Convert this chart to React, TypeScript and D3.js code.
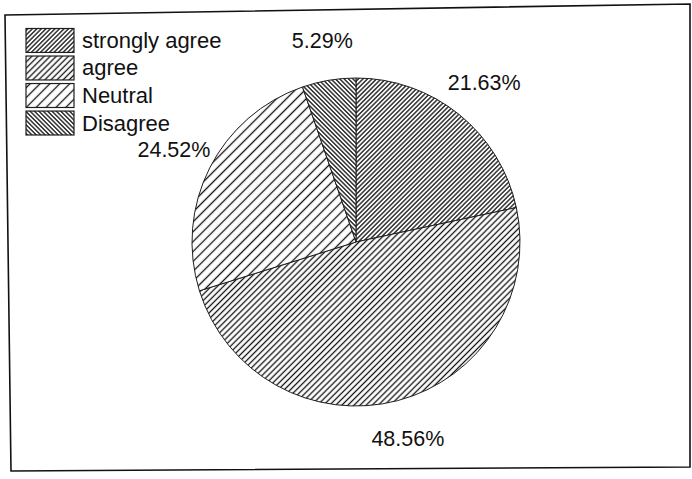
import React from "react";
import * as d3 from "d3";

const categories = ["strongly agree", "agree", "Neutral", "Disagree"];
const values = [21.63, 48.56, 24.52, 5.29];
const valueLabels = ["21.63%", "48.56%", "24.52%", "5.29%"];

const W = 692;
const H = 479;
const cx = 356;
const cy = 242;
const R = 164;
const labelR = 204;

const hatch = [
  { id: "p0", spacing: 3.2, angle: 45 },
  { id: "p1", spacing: 4.3, angle: 45 },
  { id: "p2", spacing: 7, angle: 45 },
  { id: "p3", spacing: 3.1, angle: -45 },
];

export default function App() {
  const pie = d3.pie<number>().sort(null).value((d) => d)(values);
  const arc = d3.arc<d3.PieArcDatum<number>>().innerRadius(0).outerRadius(R);
  const labelArc = d3
    .arc<d3.PieArcDatum<number>>()
    .innerRadius(labelR)
    .outerRadius(labelR);
  const legendY = d3
    .scaleBand<string>()
    .domain(categories)
    .range([28.5, 135])
    .paddingInner(0.13);
  const font = "'Liberation Sans', Arial, sans-serif";

  return (
    <svg
      width={W}
      height={H}
      style={{ position: "absolute", left: 0, top: 0, background: "#fff" }}
    >
      <defs>
        {hatch.map((h) => (
          <pattern
            key={h.id}
            id={h.id}
            patternUnits="userSpaceOnUse"
            width={h.spacing}
            height={h.spacing}
            patternTransform={`rotate(${h.angle})`}
          >
            <rect width={h.spacing} height={h.spacing} fill="#fff" />
            <line
              x1={h.spacing / 2}
              y1={0}
              x2={h.spacing / 2}
              y2={h.spacing}
              stroke="#111"
              strokeWidth={1.3}
            />
          </pattern>
        ))}
      </defs>
      <rect width={W} height={H} fill="#fff" />
      <path
        d="M5,15 L690,4 L690,467 L11,471 Z"
        fill="none"
        stroke="#111"
        strokeWidth={1.6}
      />
      <g transform={`translate(${cx},${cy})`}>
        {pie.map((d, i) => (
          <path
            key={i}
            d={arc(d) || ""}
            fill={`url(#${hatch[i].id})`}
            stroke="#1e1e1e"
            strokeWidth={1}
          />
        ))}
        {pie.map((d, i) => {
          const [x, y] = labelArc.centroid(d);
          return (
            <text
              key={"l" + i}
              x={x}
              y={y}
              textAnchor="middle"
              dominantBaseline="central"
              fontFamily={font}
              fontSize={21.5}
              fill="#111"
            >
              {valueLabels[i]}
            </text>
          );
        })}
      </g>
      <g>
        {categories.map((c, i) => {
          const y = legendY(c) || 0;
          const bh = legendY.bandwidth();
          return (
            <g key={c}>
              <rect
                x={26}
                y={y}
                width={48}
                height={bh}
                fill={`url(#${hatch[i].id})`}
                stroke="#1e1e1e"
                strokeWidth={1.2}
              />
              <text
                x={82}
                y={y + bh / 2 + 7.5}
                fontFamily={font}
                fontSize={22}
                fill="#111"
              >
                {c}
              </text>
            </g>
          );
        })}
      </g>
    </svg>
  );
}
